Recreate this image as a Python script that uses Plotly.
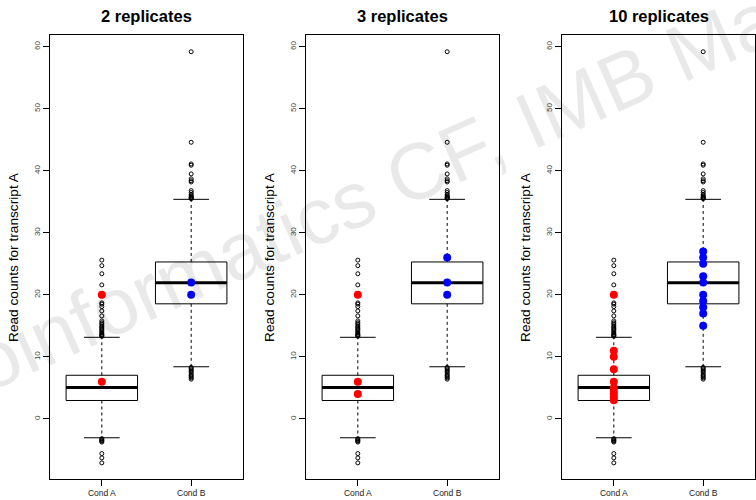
import plotly.graph_objects as go

# ---------------- data ----------------
panel_titles = ["2 replicates", "3 replicates", "10 replicates"]
conditions = ["Cond A", "Cond B"]
cond_pos = [1, 2]

# box statistics (same simulated distributions in every panel)
q1_vals = [2.96, 18.55]
median_vals = [5.05, 21.95]
q3_vals = [7.03, 25.3]
whisker_lo = [-3.05, 8.4]
whisker_hi = [13.15, 35.4]

outliers_a = [13.3, 13.4, 13.5, 13.6, 13.8, 14.0, 14.2, 14.4, 14.6, 14.8, 15.0,
              15.3, 15.5, 15.8, 16.6, 17.4, 18.1, 18.5, 18.7, 20.0, 21.6, 23.4,
              24.7, 25.6, -3.2, -3.35, -3.5, -3.6, -3.75, -5.6, -6.3, -7.1]
outliers_b = [35.5, 35.6, 35.7, 35.8, 36.0, 36.2, 36.5, 36.8, 38.2, 38.4, 38.7,
              39.5, 40.9, 41.1, 44.6, 59.2, 8.3, 8.1, 7.9, 7.7, 7.5, 7.2, 7.0,
              6.8, 6.6, 6.4]

rep_a = [[20, 6],
         [20, 6, 4],
         [20, 11, 10, 8, 6, 5, 4.5, 4, 3.5, 3]]
rep_b = [[22, 20],
         [26, 22, 20],
         [27, 26, 25, 23, 22, 20, 19, 18, 17, 15]]

y_ticks = [0, 10, 20, 30, 40, 50, 60]
y_label = "Read counts for transcript A"
watermark = "Bioinformatics CF, IMB Mainz"

# ---------------- layout geometry ----------------
W, H = 756, 500
panel_px = [(50, 243), (306, 499), (562, 755)]
top_px, bot_px = 35, 479
FONT = "Liberation Sans, Arial, Helvetica, sans-serif"

fig = go.Figure()

def add(trace, i):
    sfx = "" if i == 0 else str(i + 1)
    trace.update(xaxis="x" + sfx, yaxis="y" + sfx)
    fig.add_trace(trace)

outliers = [outliers_a, outliers_b]
half_box = 0.4
half_staple = 0.2

for i in range(3):
    for j, c in enumerate(cond_pos):
        # box outline
        add(go.Scatter(x=[c - half_box, c + half_box, c + half_box, c - half_box, c - half_box],
                       y=[q1_vals[j], q1_vals[j], q3_vals[j], q3_vals[j], q1_vals[j]],
                       mode="lines", line=dict(color="black", width=1),
                       hoverinfo="skip", showlegend=False), i)
        # median
        add(go.Scatter(x=[c - half_box, c + half_box], y=[median_vals[j], median_vals[j]],
                       mode="lines", line=dict(color="black", width=3),
                       hoverinfo="skip", showlegend=False), i)
        # whiskers (dashed)
        add(go.Scatter(x=[c, c, None, c, c],
                       y=[q3_vals[j], whisker_hi[j], None, q1_vals[j], whisker_lo[j]],
                       mode="lines", line=dict(color="black", width=1, dash="3px,3px"),
                       hoverinfo="skip", showlegend=False), i)
        # staples
        add(go.Scatter(x=[c - half_staple, c + half_staple, None, c - half_staple, c + half_staple],
                       y=[whisker_hi[j], whisker_hi[j], None, whisker_lo[j], whisker_lo[j]],
                       mode="lines", line=dict(color="black", width=1),
                       hoverinfo="skip", showlegend=False), i)
        # outliers
        add(go.Scatter(x=[c] * len(outliers[j]), y=outliers[j], mode="markers",
                       marker=dict(symbol="circle-open", size=4, color="black",
                                   line=dict(width=1)),
                       hoverinfo="skip", showlegend=False), i)
    # replicate points
    add(go.Scatter(x=[cond_pos[0]] * len(rep_a[i]), y=rep_a[i], mode="markers",
                   marker=dict(size=8, color="#FF0000"), showlegend=False), i)
    add(go.Scatter(x=[cond_pos[1]] * len(rep_b[i]), y=rep_b[i], mode="markers",
                   marker=dict(size=8, color="#0000FF"), showlegend=False), i)

layout = dict(width=W, height=H, template="none",
              margin=dict(l=0, r=0, t=0, b=0, pad=0),
              paper_bgcolor="white", plot_bgcolor="white",
              showlegend=False, annotations=[])

ydom = [1 - bot_px / H, 1 - top_px / H]
for i, (l, r) in enumerate(panel_px):
    sfx = "" if i == 0 else str(i + 1)
    layout["xaxis" + sfx] = dict(
        domain=[l / W, r / W], anchor="y" + sfx, range=[0.42, 2.58],
        tickvals=cond_pos, ticktext=conditions, ticks="outside", ticklen=6,
        tickwidth=1, tickcolor="black", showline=True, mirror=True,
        linecolor="black", linewidth=1, showgrid=False, zeroline=False,
        tickfont=dict(family=FONT, size=8.5, color="#222"), automargin=False)
    layout["yaxis" + sfx] = dict(
        domain=ydom, anchor="x" + sfx, range=[-9.7, 61.9],
        tickvals=y_ticks, ticks="outside", ticklen=6, tickwidth=1,
        tickcolor="black", showline=True, mirror=True, linecolor="black",
        linewidth=1, showgrid=False, zeroline=False, tickangle=-90,
        tickfont=dict(family=FONT, size=8, color="#444"), automargin=False)
    cx = (l + r) / 2 / W
    layout["annotations"].append(dict(
        text="<b>" + panel_titles[i] + "</b>", x=cx, y=1 - 16 / H,
        xref="paper", yref="paper", showarrow=False,
        xanchor="center", yanchor="middle",
        font=dict(family=FONT, size=16.5, color="black")))
    layout["annotations"].append(dict(
        text=y_label, x=(l - 37) / W, y=1 - (top_px + bot_px) / 2 / H,
        xref="paper", yref="paper", showarrow=False, textangle=-90,
        xanchor="center", yanchor="middle",
        font=dict(family=FONT, size=13.7, color="black")))

layout["annotations"].append(dict(
    text=watermark, x=388 / W, y=1 - 184 / H, xref="paper", yref="paper",
    showarrow=False, textangle=-24, xanchor="center", yanchor="middle",
    font=dict(family=FONT, size=80, color="rgba(0,0,0,0.085)")))

fig.update_layout(**layout)
fig.write_html("out.html", config={"displayModeBar": False},
               post_script="document.body.style.margin='0';document.body.style.padding='0';")
